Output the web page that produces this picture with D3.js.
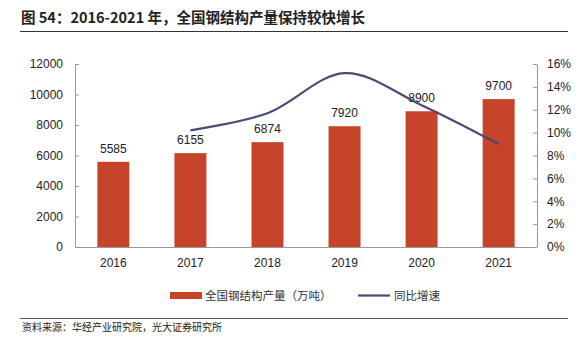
<!DOCTYPE html>
<html>
<head>
<meta charset="utf-8">
<script src="https://cdn.jsdelivr.net/npm/d3@7"></script>
<style>
  body { margin: 0; background: #fff; }
  text { font-family: "Liberation Sans", Arial, sans-serif; }
  .cjk { font-family: "Noto Sans CJK SC", sans-serif; }
</style>
</head>
<body>
<div id="the_chart"></div>
<script>
var years = ["2016", "2017", "2018", "2019", "2020", "2021"];
var output = [5585, 6155, 6874, 7920, 8900, 9700];
var growth = [null, 10.2, 11.7, 15.2, 12.4, 9.0];
var leftTicks = [0, 2000, 4000, 6000, 8000, 10000, 12000];
var rightTicks = [0, 2, 4, 6, 8, 10, 12, 14, 16];

var w = 588, h = 351;
var plotL = 75, plotR = 537, plotT = 64, plotB = 247;

var svg = d3.select("#the_chart").append("svg")
    .attr("width", w)
    .attr("height", h);

// title
svg.append("text")
    .attr("class", "cjk")
    .attr("x", 21).attr("y", 23)
    .attr("font-size", 14.5).attr("font-weight", "bold")
    .attr("fill", "#222")
    .text("图 54：2016-2021 年，全国钢结构产量保持较快增长");
svg.append("line")
    .attr("x1", 20).attr("x2", 568).attr("y1", 31.5).attr("y2", 31.5)
    .attr("stroke", "#333").attr("stroke-width", 1);

var xscale = d3.scaleBand().domain(years).range([plotL, plotR]).paddingInner(0.585).paddingOuter(0.29);
var yscale = d3.scaleLinear().domain([0, 12000]).range([plotB, plotT]);
var rscale = d3.scaleLinear().domain([0, 16]).range([plotB, plotT]);

var yaxis = d3.axisRight(yscale).tickValues(leftTicks).tickSize(4).tickSizeOuter(0)
    .tickFormat(function(d) { return d; });
var raxis = d3.axisLeft(rscale).tickValues(rightTicks).tickSize(4).tickSizeOuter(0)
    .tickFormat(function(d) { return d + "%"; });

var gY = svg.append("g").attr("transform", "translate(" + plotL + ",0)").call(yaxis);
gY.selectAll("text").attr("x", -12).attr("text-anchor", "end");
var gR = svg.append("g").attr("transform", "translate(" + plotR + ",0)").call(raxis);
gR.selectAll("text").attr("x", 10).attr("text-anchor", "start");

[gY, gR].forEach(function(g) {
  g.select(".domain").attr("stroke", "#999");
  g.selectAll(".tick line").attr("stroke", "#999");
  g.selectAll("text").attr("font-size", 12).attr("fill", "#222")
    .style("font-family", "Liberation Sans, Arial, sans-serif");
});

// x axis baseline
svg.append("line")
    .attr("x1", plotL).attr("x2", plotR).attr("y1", plotB + 0.5).attr("y2", plotB + 0.5)
    .attr("stroke", "#999");

svg.selectAll(".xlab").data(years).enter().append("text")
    .attr("x", function(d) { return xscale(d) + xscale.bandwidth() / 2; })
    .attr("y", 267)
    .attr("text-anchor", "middle").attr("font-size", 12).attr("fill", "#222")
    .text(function(d) { return d; });

svg.selectAll("rect.bar").data(output).enter().append("rect")
    .attr("class", "bar")
    .attr("x", function(d, i) { return xscale(years[i]); })
    .attr("width", xscale.bandwidth())
    .attr("y", function(d) { return yscale(d); })
    .attr("height", function(d) { return plotB - yscale(d); })
    .attr("fill", "#C5442A");

svg.selectAll(".blab").data(output).enter().append("text")
    .attr("x", function(d, i) { return xscale(years[i]) + xscale.bandwidth() / 2; })
    .attr("y", function(d) { return yscale(d) - 9; })
    .attr("text-anchor", "middle").attr("font-size", 12).attr("fill", "#222")
    .text(function(d) { return d; });

var pts = growth.map(function(d, i) { return {y: years[i], v: d}; })
    .filter(function(d) { return d.v != null; });
svg.append("path")
    .datum(pts)
    .attr("fill", "none")
    .attr("stroke", "#4A4A75")
    .attr("stroke-width", 2.2)
    .attr("d", d3.line()
        .x(function(d) { return xscale(d.y) + xscale.bandwidth() / 2; })
        .y(function(d) { return rscale(d.v); })
        .curve(d3.curveCatmullRom.alpha(0.5)));

// legend
svg.append("rect").attr("x", 170).attr("y", 292).attr("width", 32).attr("height", 7).attr("fill", "#C5442A");
svg.append("text").attr("class", "cjk").attr("x", 205).attr("y", 300).attr("font-size", 11.5).attr("fill", "#333")
    .text("全国钢结构产量（万吨）");
svg.append("line").attr("x1", 358).attr("x2", 390).attr("y1", 295.5).attr("y2", 295.5)
    .attr("stroke", "#4A4A75").attr("stroke-width", 2.2);
svg.append("text").attr("class", "cjk").attr("x", 394).attr("y", 300).attr("font-size", 11.5).attr("fill", "#333")
    .text("同比增速");

// source
svg.append("line")
    .attr("x1", 20).attr("x2", 568).attr("y1", 318.5).attr("y2", 318.5)
    .attr("stroke", "#555").attr("stroke-width", 1);
svg.append("text").attr("class", "cjk").attr("x", 22).attr("y", 331).attr("font-size", 10).attr("fill", "#222")
    .text("资料来源：华经产业研究院，光大证券研究所");
</script>
</body>
</html>
